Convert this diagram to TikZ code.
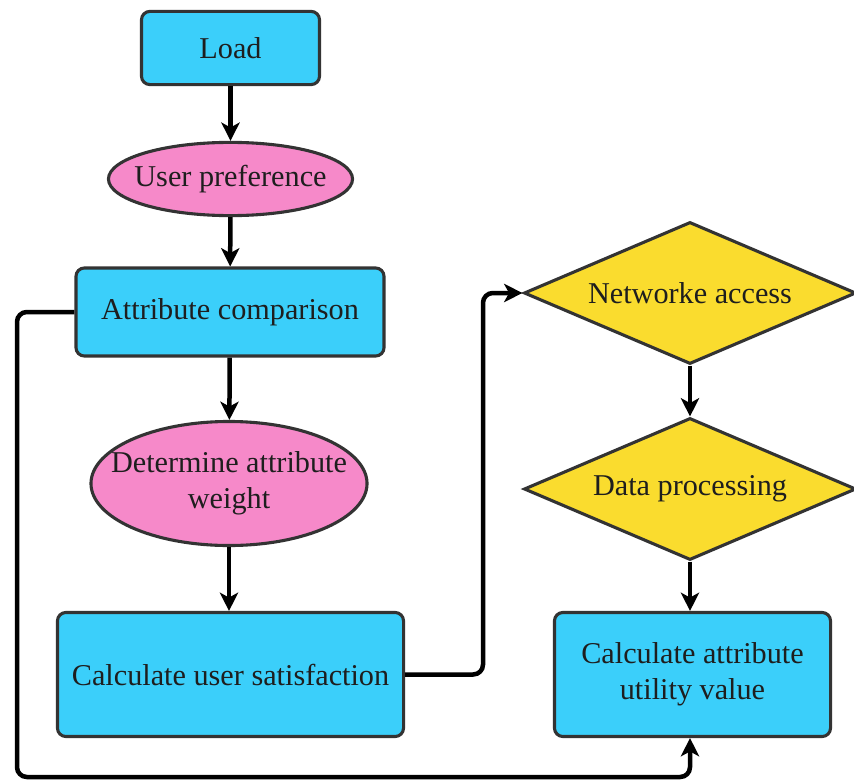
\documentclass[tikz,border=0pt]{standalone}
\usepackage{fontspec}
\setmainfont{Liberation Serif}
\usetikzlibrary{shapes.geometric}
\usetikzlibrary{arrows.meta}
\definecolor{bleu}{RGB}{59,207,250}
\definecolor{rose}{RGB}{246,137,201}
\definecolor{jaune}{RGB}{250,220,46}
\definecolor{bord}{RGB}{51,51,51}
\definecolor{texte}{RGB}{30,30,30}
\newcommand{\serre}[1]{\makebox[0pt]{\begin{tabular}{@{}c@{}}#1\end{tabular}}}

\begin{document}
\begin{tikzpicture}[x=0.025cm,y=-0.025cm,
  noeud/.style = {draw=bord,line width=2.2pt,text=texte,align=center,inner sep=2pt,font=\fontsize{21.5}{25.6}\selectfont},
  boite/.style = {noeud,fill=bleu,rounded corners=6pt},
  bulle/.style = {noeud,fill=rose,ellipse,inner sep=0pt},
  choix/.style = {noeud,fill=jaune,diamond,shape aspect=2.3,inner sep=0pt},
  fleche/.style = {line width=3.2pt,rounded corners=7pt,-{Stealth[length=13pt,width=13pt,inset=3.5pt]}}
  ]
\path[use as bounding box] (0,0) rectangle (854,781);
\clip (0,0) rectangle (854,781);
\node[boite,minimum width=4.45cm,minimum height=1.83cm] (load) at (230.5,48) {Load};
\node[bulle,minimum width=6.1cm,minimum height=1.83cm] (pref) at (230.5,179) {\serre{User preference}};
\node[boite,minimum width=7.7cm,minimum height=2.2cm] (comp) at (230,312) {Attribute comparison};
\node[bulle,minimum width=6.9cm,minimum height=3.1cm] (poids) at (229,483.5) {\serre{Determine attribute\\weight}};
\node[boite,minimum width=8.65cm,minimum height=3.1cm] (satis) at (230.5,674.5) {Calculate user satisfaction};
\node[choix,minimum width=8.3cm,minimum height=3.55cm] (acces) at (690,293) {Networke access};
\node[choix,minimum width=8.3cm,minimum height=3.55cm] (donnees) at (690,489) {Data processing};
\node[boite,minimum width=6.9cm,minimum height=3.1cm] (utile) at (692.5,674.5) {Calculate attribute\\utility value};
\coordinate (coin) at (690,777);

\draw[fleche] (load) -- (pref);
\draw[fleche] (pref) -- (comp);
\draw[fleche] (comp) -- (poids);
\draw[fleche] (poids.south) -- (poids.south |- satis.north);
\draw[fleche] (satis.east) -- (483,674.5) -- (483,293) -- (acces.west);
\draw[fleche] (acces) -- (donnees);
\draw[fleche] (donnees.south) -- (donnees.south |- utile.north);
\draw[fleche] (comp.west) -- (17,312) -- (17,777) -- (coin) -- (coin |- utile.south);

\end{tikzpicture}
\end{document}
